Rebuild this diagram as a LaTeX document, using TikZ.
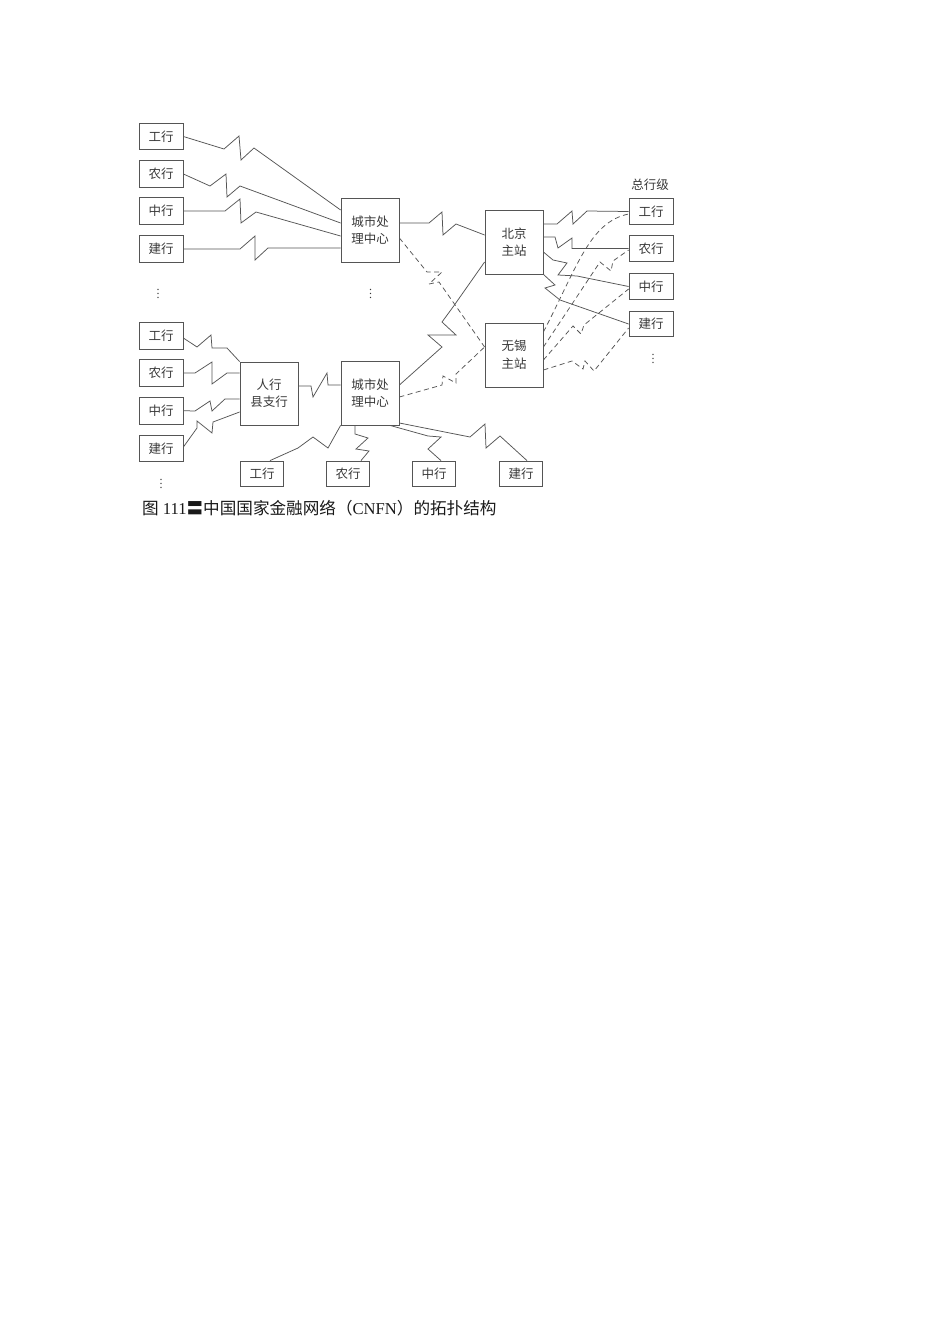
\documentclass[tikz,border=0pt]{standalone}
\usepackage{fontspec}
\setmainfont{Liberation Serif}
\newfontfamily\cjk{Noto Sans CJK SC}
\usetikzlibrary{calc}
\definecolor{ln}{HTML}{555555}
\definecolor{tx}{HTML}{383838}
\begin{document}
\begin{tikzpicture}[x=1pt,y=-1pt,
  bx/.style={draw=ln, line width=0.8pt, inner sep=0pt, align=center,
    font=\cjk\fontsize{12.5}{17.5}\selectfont, text=tx},
  smallbox/.style={bx, minimum width=44pt, minimum height=26.5pt},
  rightbox/.style={bx, minimum width=44pt, minimum height=25.5pt},
  botbox/.style={bx, minimum width=43pt, minimum height=25pt},
  bigbox/.style={bx, minimum width=58pt, minimum height=64pt},
  lbl/.style={inner sep=0pt, font=\cjk\fontsize{12.5}{15}\selectfont, text=tx},
  dotsnode/.style={inner sep=0pt, text=tx, font=\fontsize{12}{12}\selectfont},
  wire/.style={draw=ln, line width=0.75pt, line join=miter},
  dwire/.style={wire, dash pattern=on 5pt off 3.5pt}]
\useasboundingbox (0,0) rectangle (950,1344);
\fill[white] (0,0) rectangle (950,1344);

% left upper boxes
\node[smallbox] (LU1) at (161,136.5) {工行};
\node[smallbox] (LU2) at (161,174) {农行};
\node[smallbox] (LU3) at (161,211) {中行};
\node[smallbox] (LU4) at (161,249) {建行};
% centres
\node[bigbox] (CU) at (370,230) {城市处\\理中心};
\node[bigbox] (BJ) at (514,242) {北京\\主站};
\node[bigbox] (WX) at (514,355) {无锡\\主站};
% right boxes
\node[lbl] (ZHJ) at (650,185) {总行级};
\node[rightbox] (RB1) at (651,211.5) {工行};
\node[rightbox] (RB2) at (651,248.5) {农行};
\node[rightbox] (RB3) at (651,286.5) {中行};
\node[rightbox] (RB4) at (651,324) {建行};
% left lower boxes
\node[smallbox] (LL1) at (161,336) {工行};
\node[smallbox] (LL2) at (161,373) {农行};
\node[smallbox] (LL3) at (161,410.7) {中行};
\node[smallbox] (LL4) at (161,448.3) {建行};
\node[bigbox, minimum height=63pt] (RH) at (269,393.5) {人行\\县支行};
\node[bigbox] (CL) at (370,393) {城市处\\理中心};
% bottom boxes
\node[botbox] (BB1) at (262,473.5) {工行};
\node[botbox] (BB2) at (348,473.5) {农行};
\node[botbox] (BB3) at (434,473.5) {中行};
\node[botbox] (BB4) at (521,473.5) {建行};

% dots
\node[dotsnode] (D1) at (158,291) {$\vdots$};
\node[dotsnode] (D2) at (370.5,291) {$\vdots$};
\node[dotsnode] (D3) at (653,356) {$\vdots$};
\node[dotsnode] (D4) at (161,481) {$\vdots$};

% upper left lines
\draw[wire] (LU1.east) -- (224,149) -- (239,136) -- (241,160) -- (254,148) -- (CU.west |- 0,210);
\draw[wire] (LU2.east) -- (210,186) -- (226,174) -- (227,197) -- (240,186) -- (CU.west |- 0,223);
\draw[wire] (LU3.east) -- (225,211) -- (240,199) -- (241,223) -- (256,212) -- (CU.west |- 0,236);
\draw[wire] (LU4.east) -- (240,249) -- (255,236) -- (255,260) -- (268,248) -- (CU.west |- 0,248);

% centre links
\draw[wire] (CU.east |- 0,223) -- (429,223) -- (442,212) -- (443,235) -- (456,224) -- (BJ.west |- 0,235);
\draw[dwire] (CU.east |- 0,238) -- (427,272) -- (442,272) -- (429,284) -- (439,282) -- (WX.west |- 0,347);
\draw[wire] (CL.east |- 0,385) -- (442,347) -- (428,335) -- (456,335) -- (442,322) -- (453,307) -- (BJ.west |- 0,262);
\draw[dwire] (CL.east |- 0,397) -- (442,385) -- (443,376) -- (456,383) -- (456,374) -- (WX.west |- 0,347);

% lower left lines
\draw[wire] (LL1.east |- 0,338) -- (197,347) -- (211,335) -- (212,348) -- (227,348) -- (RH.north west);
\draw[wire] (LL2.east) -- (195,373) -- (212,362) -- (212,384) -- (227,373) -- (RH.west |- 0,373);
\draw[wire] (LL3.east) -- (195,411) -- (210,401) -- (212,411) -- (225,399) -- (RH.west |- 0,399);
\draw[wire] (LL4.east |- 0,447) -- (197,428) -- (197,421) -- (212,433) -- (213,422) -- (RH.west |- 0,412);
\draw[wire] (RH.east |- 0,386) -- (311,386) -- (313,397) -- (327,373) -- (328,385) -- (CL.west |- 0,385);

% lower centre to bottom boxes
\draw[wire] (CL.south west) -- (328,448) -- (313,437) -- (298,448) -- (BB1.north -| 270,0);
\draw[wire] (CL.south -| 355,0) -- (355,434) -- (368,438) -- (356,449) -- (369,451) -- (BB2.north -| 361,0);
\draw[wire] (CL.south -| 390,0) -- (428,436) -- (441,437) -- (428,449) -- (BB3.north -| 441,0);
\draw[wire] (CL.east |- 0,423) -- (470,437) -- (485,424) -- (486,448) -- (500,436) -- (BB4.north -| 527,0);

% Beijing to head offices
\draw[wire] (BJ.east |- 0,224) -- (557,224) -- (572,211) -- (573,224) -- (587,211) -- (RB1.west);
\draw[wire] (BJ.east |- 0,237) -- (555,237) -- (558,248) -- (572,238) -- (572,248.5) -- (RB2.west);
\draw[wire] (BJ.east |- 0,252) -- (553,260) -- (567,263) -- (558,275) -- (577,276) -- (RB3.west);
\draw[wire] (BJ.south east) -- (555,285) -- (545,288) -- (560,300) -- (RB4.west);

% Wuxi to head offices (dashed)
\draw[dwire] (WX.east |- 0,332) .. controls (578,265) and (590,222) .. (RB1.west |- 0,214);
\draw[dwire] (WX.east |- 0,347) -- (600,262) -- (611,271) -- (613,261) -- (RB2.west |- 0,250);
\draw[dwire] (WX.east |- 0,360) -- (573,326) -- (581,334) -- (584,325) -- (RB3.west |- 0,289);
\draw[dwire] (WX.east |- 0,370) -- (572,361) -- (583,369) -- (585,361) -- (594,371) -- (RB4.west |- 0,328);

% caption
\node[anchor=west, inner sep=0pt, text=black!90, font=\fontsize{16.6}{18}\selectfont] (CAP) at (142,508)
  {{\cjk 图} 111{\cjk 〓中国国家金融网络（}CNFN{\cjk ）的拓扑结构}};
\end{tikzpicture}
\end{document}
